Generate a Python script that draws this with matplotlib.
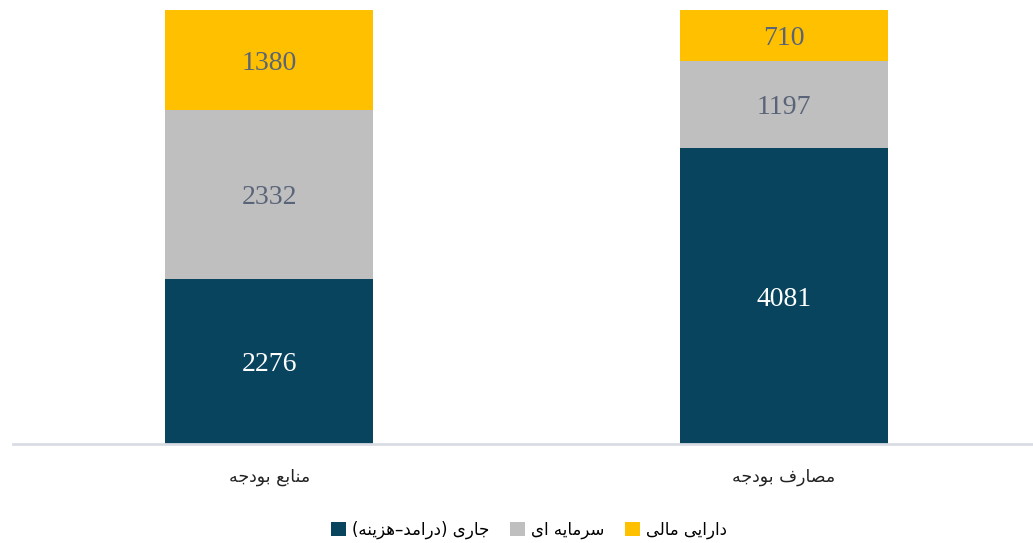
import matplotlib
matplotlib.use("Agg")
import matplotlib.pyplot as plt
from matplotlib.patches import Patch

# داده ها
categories = ["منابع بودجه", "مصارف بودجه"]
series_names = ["جاری (درامد–هزینه)", "سرمایه ای", "دارایی مالی"]
current = [2276, 4081]
capital = [2332, 1197]
financial = [1380, 710]

colors = ["#08445e", "#bfbfbf", "#ffc000"]
label_colors = ["white", "#5a6478", "#5a6478"]

# شکل دهی ساده حروف فارسی (matplotlib خودش این کار را نمی کند)
FORMS = {
    "ا": ("\uFE8D", "\uFE8E"),
    "د": ("\uFEA9", "\uFEAA"),
    "ر": ("\uFEAD", "\uFEAE"),
    "ز": ("\uFEAF", "\uFEB0"),
    "و": ("\uFEED", "\uFEEE"),
    "ب": ("\uFE8F", "\uFE90", "\uFE91", "\uFE92"),
    "ج": ("\uFE9D", "\uFE9E", "\uFE9F", "\uFEA0"),
    "س": ("\uFEB1", "\uFEB2", "\uFEB3", "\uFEB4"),
    "ص": ("\uFEB9", "\uFEBA", "\uFEBB", "\uFEBC"),
    "ع": ("\uFEC9", "\uFECA", "\uFECB", "\uFECC"),
    "ف": ("\uFED1", "\uFED2", "\uFED3", "\uFED4"),
    "ل": ("\uFEDD", "\uFEDE", "\uFEDF", "\uFEE0"),
    "م": ("\uFEE1", "\uFEE2", "\uFEE3", "\uFEE4"),
    "ن": ("\uFEE5", "\uFEE6", "\uFEE7", "\uFEE8"),
    "ه": ("\uFEE9", "\uFEEA", "\uFEEB", "\uFEEC"),
    "ی": ("\uFBFC", "\uFBFD", "\uFBFE", "\uFBFF"),
}
MIRROR = {"(": ")", ")": "("}


def fa(text):
    out = []
    for i, ch in enumerate(text):
        if ch not in FORMS:
            out.append(MIRROR.get(ch, ch))
            continue
        prev = text[i - 1] if i > 0 else ""
        nxt = text[i + 1] if i + 1 < len(text) else ""
        join_prev = prev in FORMS and len(FORMS[prev]) == 4
        join_next = len(FORMS[ch]) == 4 and nxt in FORMS
        f = FORMS[ch]
        if join_prev and join_next:
            out.append(f[3])
        elif join_prev:
            out.append(f[1])
        elif join_next:
            out.append(f[2])
        else:
            out.append(f[0])
    return "".join(reversed(out))


fig = plt.figure(figsize=(10.33, 5.43), dpi=100)
ax = fig.add_axes([13 / 1033, 1 - 444 / 543, 1020 / 1033, 434 / 543])

x = [0, 1]
bottoms = [0, 0]
for vals, col, lcol in zip([current, capital, financial], colors, label_colors):
    bars = ax.bar(x, vals, width=0.404, bottom=bottoms, color=col)
    for b, v in zip(bars, vals):
        ax.text(b.get_x() + b.get_width() / 2, b.get_y() + v / 2, str(v),
                ha="center", va="center_baseline", color=lcol, fontsize=20,
                family="Liberation Serif")
    bottoms = [a + b for a, b in zip(bottoms, vals)]

ax.set_xlim(-0.498, 1.484)
ax.set_ylim(0, max(bottoms))
for s in ["top", "right", "left"]:
    ax.spines[s].set_visible(False)
ax.spines["bottom"].set_color("#d9dde3")
ax.spines["bottom"].set_linewidth(2)
ax.set_yticks([])
ax.set_xticks(x)
ax.set_xticklabels([fa(c) for c in categories], fontsize=12.5,
                   family="DejaVu Sans", color="#222222")
ax.tick_params(axis="x", length=0, pad=17)

handles = [Patch(facecolor=c, edgecolor="none") for c in colors]
fig.legend(handles, [fa(s) for s in series_names], loc="center",
           bbox_to_anchor=(0.512, 1 - 530 / 543), ncol=3, frameon=False,
           prop={"family": "DejaVu Sans", "size": 12},
           handlelength=0.9, handleheight=0.9, handletextpad=0.4,
           columnspacing=1.2)

fig.savefig("out.png", dpi=100)
